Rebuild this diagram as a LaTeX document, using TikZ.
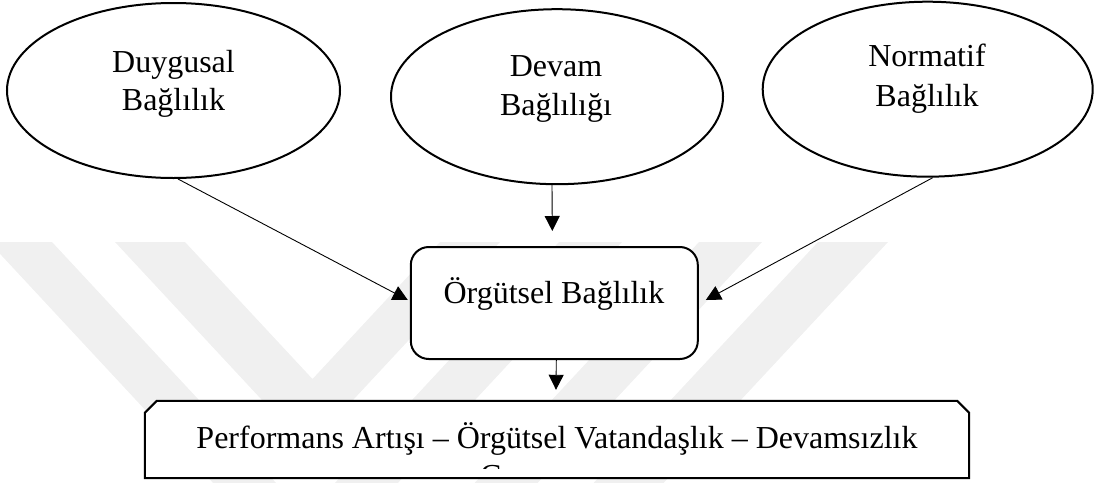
\documentclass[tikz,border=0pt]{standalone}
\usepackage{fontspec}
\setmainfont{Liberation Serif}
\usetikzlibrary{arrows.meta,shapes.geometric,calc}
\begin{document}
\begin{tikzpicture}[x=1pt,y=-1pt,
  shapeline/.style={draw=black,line width=2pt,fill=white},
  oval/.style={shapeline,ellipse,inner sep=0pt,minimum width=332pt,minimum height=175pt},
  lbl/.style={font=\fontsize{32}{38}\selectfont,inner sep=0pt,anchor=base},
  conn/.style={line width=0.9pt,-{Triangle[length=15pt,width=15pt]}},
  wm/.style={fill=black!6,draw=none}]
\useasboundingbox (0,0) rectangle (1099,482);
% faint watermark
\begin{scope}
\clip (0,0) rectangle (1099,482);
\fill[wm] (-11,242) -- (52,242) -- (305.5,514.6) -- (559,242) -- (622,242) -- (305.5,582.3) -- cycle;
\fill[wm] (115,242) -- (185,242) -- (312.5,379) -- (440,242) -- (500,242) -- (307.5,449) -- cycle;
\fill[wm] (699,242) -- (762,242) -- (531,490) -- (468,490) -- cycle;
\fill[wm] (818,242) -- (888,242) -- (657,490) -- (587,490) -- cycle;
\end{scope}
% ellipses
\node[oval,minimum width=333pt] (e1) at (173.5,90.5) {};
\node[oval] (e2) at (557,96.7) {};
\node[oval,minimum width=330pt] (e3) at (927.7,89.2) {};
\node[lbl] (e1a) at (173.5,72) {Duygusal};
\node[lbl] (e1b) at (173.5,110) {Bağlılık};
\node[lbl] (e2a) at (556,76) {Devam};
\node[lbl] (e2b) at (556,115) {Bağlılığı};
\node[lbl] (e3a) at (927,66.7) {Normatif};
\node[lbl] (e3b) at (927,106.7) {Bağlılık};
% central box
\node[shapeline,rounded corners=18pt,minimum width=287pt,minimum height=112pt,inner sep=0pt] (r) at (554.3,303) {};
\node[lbl] (rt) at (554,303) {Örgütsel Bağlılık};
% bottom box (chamfered top corners)
\node[inner sep=0pt,minimum width=824pt,minimum height=77pt] (pb) at (557,439.5) {};
\draw[shapeline,line join=miter] (pb.south west) -- ([yshift=-12pt]pb.north west) -- ([xshift=12pt]pb.north west)
  -- ([xshift=-12pt]pb.north east) -- ([yshift=-12pt]pb.north east) -- (pb.south east) -- cycle;
\node[lbl] (pbt) at (557,448) {Performans Artışı – Örgütsel Vatandaşlık – Devamsızlık};
\begin{scope}
\clip (145,401) rectangle (969,468.5);
\node[lbl,anchor=base west] (pbc) at (480,486) {C};
\end{scope}
% connectors
\draw[conn] ([xshift=4.5pt]e1.south) -- ([xshift=-2pt,yshift=3pt]r.west);
\draw[conn] ([xshift=-5pt]e2.south) -- ([xshift=-2pt,yshift=15pt]r.north);
\draw[conn] ([xshift=5pt]e3.south) -- ([xshift=7pt,yshift=3pt]r.east);
\draw[conn] ([xshift=2pt]r.south) -- ([xshift=-1pt,yshift=11pt]pb.north);
\end{tikzpicture}
\end{document}
